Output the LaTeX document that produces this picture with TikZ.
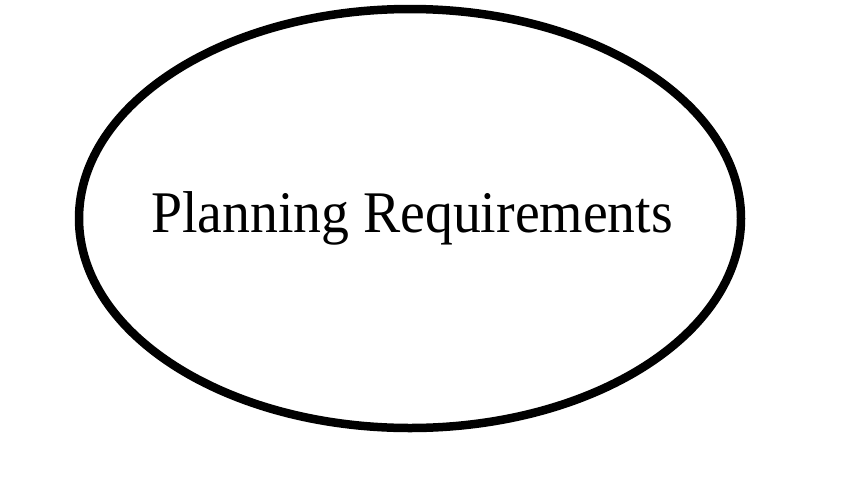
\documentclass[tikz,border=0pt]{standalone}
\usepackage{fontspec}
\setmainfont{Liberation Serif}
\begin{document}
\begin{tikzpicture}[x=1pt,y=-1pt,
  outline/.style={draw=black,line width=8.5pt},
  label/.style={font=\fontsize{59}{61}\selectfont,inner sep=0pt,anchor=base,xscale=0.945}]
\useasboundingbox (0,0) rectangle (854,480);
\fill[white] (0,0) rectangle (854,480);
\draw[outline] (410,218.5) ellipse [x radius=331, y radius=209.5];
\node[label] (t) at (412,232) {Planning Requirements};
\end{tikzpicture}
\end{document}
